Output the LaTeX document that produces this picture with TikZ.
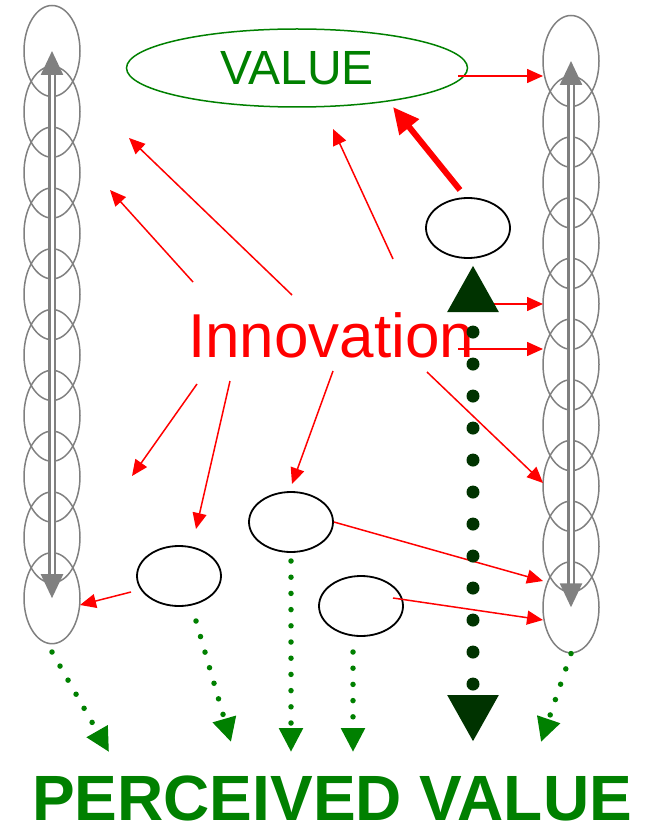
\documentclass[tikz,border=0pt]{standalone}
\usepackage{fontspec}
\setmainfont{Liberation Sans}
\usetikzlibrary{arrows.meta,shapes.geometric}
\definecolor{valgreen}{RGB}{0,128,0}
\definecolor{deepgreen}{RGB}{0,51,0}
\definecolor{colgray}{RGB}{128,128,128}
\tikzset{
  colell/.style={ellipse, draw=colgray, line width=1.5pt, minimum width=56pt, minimum height=91pt, inner sep=0pt},
  blankell/.style={ellipse, draw=black, line width=1.8pt, minimum width=84pt, minimum height=60pt, inner sep=0pt},
  redarrow/.style={draw, red, line width=1.5pt, -{Triangle[length=16pt,width=14pt]}},
  greendots/.style={valgreen, line width=5.5pt, line cap=round, dash pattern=on 0pt off 16.2pt, -{Triangle[length=24pt,width=23pt]}},
  colarrow/.style={colgray, line width=2.5pt, double=white, double distance=3pt, {Triangle[length=24pt,width=22pt]}-{Triangle[length=24pt,width=22pt]}}
}
\begin{document}
\begin{tikzpicture}[x=1pt, y=-1pt]
\useasboundingbox (0,0) rectangle (647,826);
\foreach \i in {0,...,9} {
  \node[colell] (l\i) at (52,51+60.8*\i) {};
  \node[colell] (r\i) at (571,61+60.7*\i) {};
}
\draw[colarrow] (l0.center) -- (l9.center);
\draw[colarrow] (r0.center) -- (r9.center);

\node[ellipse, draw=valgreen, line width=1.5pt, minimum width=341pt, minimum height=78pt, text=valgreen, font=\fontsize{48}{50}\selectfont] (value) at (297,68) {VALUE};
\node[text=red, font=\fontsize{62}{64}\selectfont, anchor=base west, inner sep=0pt] (innov) at (188,357) {Innovation};
\node[blankell] (e1) at (468,228) {};
\node[blankell] (e2) at (179,576) {};
\node[blankell] (e3) at (291,522) {};
\node[blankell] (e4) at (361,606) {};
\node[text=valgreen, font=\bfseries\fontsize{64}{66}\selectfont, anchor=base, inner sep=0pt] (perc) at (332,820) {PERCEIVED VALUE};

% free ends of the red arrows
\coordinate (s1) at (193,282);  \coordinate (t1) at (110,190);
\coordinate (s2) at (292,295);  \coordinate (t2) at (129,138);
\coordinate (s3) at (393,259);  \coordinate (t3) at (333,129);
\coordinate (s4) at (460,190);  \coordinate (t4) at (393,107);
\coordinate (s5) at (197,384);  \coordinate (t5) at (132,476);
\coordinate (s6) at (230,381);  \coordinate (t6) at (196,529);
\coordinate (s7) at (333,371);  \coordinate (t7) at (292,484);
\coordinate (s8) at (427,372);  \coordinate (t8) at (543,483);
\coordinate (s9) at (458,349);  \coordinate (t9) at (543,349);
\coordinate (s10) at (493,304); \coordinate (t10) at (543,304);
\coordinate (s11) at (458,76);  \coordinate (t11) at (543,76);
\coordinate (t12) at (543,581);
\coordinate (s13) at (393,598); \coordinate (t13) at (543,620);
\coordinate (s14) at (131,592); \coordinate (t14) at (80,605);
\path[every edge/.style=redarrow]
  (s1) edge (t1)
  (s2) edge (t2)
  (s3) edge (t3)
  (s5) edge (t5)
  (s6) edge (t6)
  (s7) edge (t7)
  (s8) edge (t8)
  (s9) edge (t9)
  (s10) edge (t10)
  (s11) edge (t11)
  (e3.east) edge (t12)
  (s13) edge (t13)
  (s14) edge (t14);
\draw[redarrow, line width=6pt, -{Triangle[length=26pt,width=24pt]}] (s4) -- (t4);

% dotted green arrows
\coordinate (g1) at (52,652);  \coordinate (h1) at (109,752);
\coordinate (g2) at (196,621); \coordinate (h2) at (231,742);
\coordinate (g3) at (291,561); \coordinate (h3) at (291,752);
\coordinate (g4) at (353,652); \coordinate (h4) at (353,752);
\coordinate (h6) at (541,742);
\draw[greendots] (g1) -- (h1);
\draw[greendots] (g2) -- (h2);
\draw[greendots] (g3) -- (h3);
\draw[greendots] (g4) -- (h4);
\draw[greendots] (r9.south) -- (h6);
\coordinate (d1) at (473,265); \coordinate (d2) at (473,742);
\draw[deepgreen, line width=13pt, line cap=round, dash pattern=on 0pt off 32pt, dash phase=9pt,
  {Triangle[length=47pt,width=48pt]}-{Triangle[length=47pt,width=48pt]}] (d1) -- (d2);
\end{tikzpicture}
\end{document}
